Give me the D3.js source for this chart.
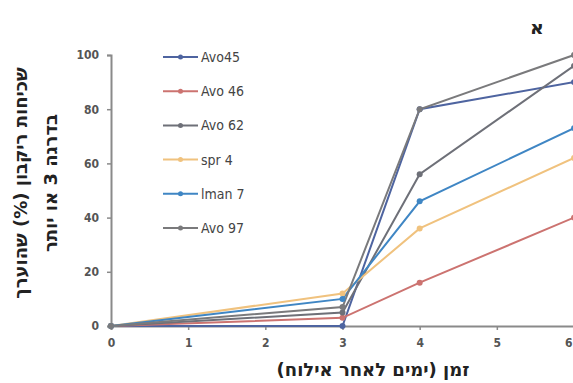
<!DOCTYPE html>
<html>
<head>
<meta charset="utf-8">
<script src="https://cdn.jsdelivr.net/npm/d3@7"></script>
<style>
  body { margin: 0; background: #fff; }
  svg { display: block; }
</style>
</head>
<body>
<div id="viz"></div>
<script>
const days = [0, 3, 4, 6];
const seriesNames = ['Avo45', 'Avo 46', 'Avo 62', 'spr 4', 'lman 7', 'Avo 97'];
const avo45 = [0, 0, 80, 90];
const avo46 = [0, 3, 16, 40];
const avo62 = [0, 5, 56, 96];
const spr4 = [0, 12, 36, 62];
const lman7 = [0, 10, 46, 73];
const avo97 = [0, 7, 80, 100];
const xTicks = [0, 1, 2, 3, 4, 5, 6];
const yTicks = [0, 20, 40, 60, 80, 100];
const colors = ['#4e64a0', '#cc7370', '#6e7078', '#f0c27e', '#3f86c4', '#7a7a7c'];

const W = 573, H = 383;
const x = d3.scaleLinear().domain([0, 6]).range([111, 574]);
const y = d3.scaleLinear().domain([0, 100]).range([326, 55]);

const svg = d3.select('#viz').append('svg')
  .attr('width', W)
  .attr('height', H);

const allValues = [avo45, avo46, avo62, spr4, lman7, avo97];
const series = seriesNames.map((name, i) => ({
  name,
  color: colors[i],
  pts: days.map((d, j) => ({ x: d, y: allValues[i][j] }))
}));

// axes
const xAxis = svg.append('g')
  .attr('transform', `translate(0,${y(0)})`)
  .call(d3.axisBottom(x).tickValues(xTicks).tickSize(4).tickPadding(8).tickFormat(d3.format('d')));
const yAxis = svg.append('g')
  .attr('transform', `translate(${x(0)},0)`)
  .call(d3.axisLeft(y).tickValues(yTicks).tickSize(4).tickPadding(8));
[xAxis, yAxis].forEach(a => {
  a.select('.domain').attr('stroke', '#8a8a8a').attr('stroke-width', 2);
  a.selectAll('.tick line').attr('stroke', '#8a8a8a').attr('stroke-width', 1.5);
  a.selectAll('.tick text')
    .attr('fill', '#555')
    .attr('font-family', 'DejaVu Sans Condensed, DejaVu Sans, sans-serif')
    .attr('font-weight', 'bold')
    .attr('font-size', 12);
});
// last x label sits on the page edge, pull it inside
xAxis.selectAll('.tick text').filter(d => d === 6).attr('text-anchor', 'end').attr('dx', -2);

// lines
const line = d3.line().x(d => x(d.x)).y(d => y(d.y));
svg.append('g').selectAll('path')
  .data(series)
  .join('path')
  .attr('fill', 'none')
  .attr('stroke', d => d.color)
  .attr('stroke-width', 2)
  .attr('d', d => line(d.pts));

svg.append('g').selectAll('g')
  .data(series)
  .join('g')
  .attr('fill', d => d.color)
  .selectAll('circle')
  .data(d => d.pts)
  .join('circle')
  .attr('cx', d => x(d.x))
  .attr('cy', d => y(d.y))
  .attr('r', 3);

// legend
const leg = svg.append('g').selectAll('g')
  .data(series)
  .join('g')
  .attr('transform', (d, i) => `translate(163,${57 + i * 34.2})`);
leg.append('line')
  .attr('x1', 0).attr('x2', 35)
  .attr('stroke', d => d.color)
  .attr('stroke-width', 2);
leg.append('circle')
  .attr('cx', 17.5).attr('r', 2.5)
  .attr('fill', d => d.color);
leg.append('text')
  .attr('x', 38)
  .attr('dy', '0.35em')
  .attr('fill', '#444')
  .attr('font-family', 'DejaVu Sans Condensed, DejaVu Sans, sans-serif')
  .attr('font-size', 14)
  .text(d => d.name);

// titles
svg.append('text')
  .attr('x', 373).attr('y', 376)
  .attr('text-anchor', 'middle')
  .attr('direction', 'rtl')
  .attr('font-family', 'DejaVu Sans, sans-serif')
  .attr('font-weight', 'bold')
  .attr('font-size', 18)
  .attr('fill', '#222')
  .text('זמן (ימים לאחר אילוח)');

const yTitle = svg.append('text')
  .attr('transform', 'translate(0,183) rotate(-90)')
  .attr('text-anchor', 'middle')
  .attr('direction', 'rtl')
  .attr('font-family', 'DejaVu Sans, sans-serif')
  .attr('font-weight', 'bold')
  .attr('font-size', 18)
  .attr('fill', '#222');
yTitle.append('tspan').attr('x', 0).attr('y', 27).text('שכיחות ריקבון (%) שהוערך');
yTitle.append('tspan').attr('x', 0).attr('y', 57).text('בדרגה 3 או יותר');

svg.append('text')
  .attr('x', 537).attr('y', 34)
  .attr('text-anchor', 'middle')
  .attr('font-family', 'DejaVu Sans, sans-serif')
  .attr('font-weight', 'bold')
  .attr('font-size', 19)
  .attr('fill', '#222')
  .text('א');
</script>
</body>
</html>
